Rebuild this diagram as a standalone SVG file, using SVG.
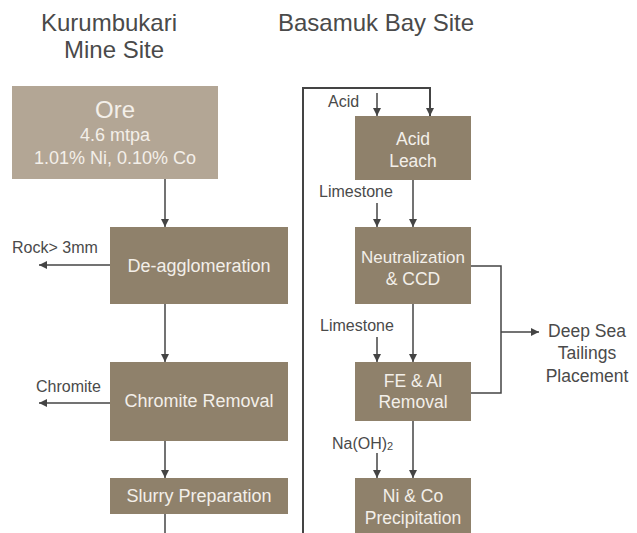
<svg xmlns="http://www.w3.org/2000/svg" width="637" height="533" viewBox="0 0 637 533">
<style>
text{font-family:"Liberation Sans",Arial,sans-serif}
.title{font-size:24px;fill:#4a4a4a;text-anchor:middle}
.box{fill:#8f816b}
.ore{fill:#b3a695}
.bt{font-size:17.5px;fill:#f3efe9;text-anchor:middle}
.lbl{font-size:16px;fill:#4a4a4a}
.ln{fill:none;stroke:#444;stroke-width:1.5}
.lnb{fill:none;stroke:#444;stroke-width:2}
</style>
<defs>
<marker id="ah" markerUnits="userSpaceOnUse" markerWidth="9" markerHeight="9" refX="8" refY="4" orient="auto">
<path d="M0,0 L8,4 L0,8 z" fill="#444"/>
</marker>
</defs>
<text class="title" x="109" y="31">Kurumbukari</text>
<text class="title" x="114" y="58">Mine Site</text>
<text class="title" x="376" y="31">Basamuk Bay Site</text>

<g id="connectors">
<path class="ln" d="M165,179 V227" marker-end="url(#ah)"/>
<path class="ln" d="M165,304 V362" marker-end="url(#ah)"/>
<path class="ln" d="M165,441 V478" marker-end="url(#ah)"/>
<path class="ln" d="M165,514 V533"/>
<path class="ln" d="M110,265 H39" marker-end="url(#ah)"/>
<path class="ln" d="M110,403 H39" marker-end="url(#ah)"/>
<path class="lnb" d="M303,533 V88 H430 V116" marker-end="url(#ah)"/>
<path class="ln" d="M377,93 V116" marker-end="url(#ah)"/>
<path class="ln" d="M377,203 V227" marker-end="url(#ah)"/>
<path class="ln" d="M413,180 V227" marker-end="url(#ah)"/>
<path class="ln" d="M377,337 V362" marker-end="url(#ah)"/>
<path class="ln" d="M413,304 V362" marker-end="url(#ah)"/>
<path class="ln" d="M377,453 V478" marker-end="url(#ah)"/>
<path class="ln" d="M413,421 V478" marker-end="url(#ah)"/>
<path class="ln" d="M471,266 H501 V393 H471"/>
<path class="ln" d="M501,332 H539" marker-end="url(#ah)"/>
</g>

<g id="labels">
<text class="lbl" x="12" y="253">Rock&gt; 3mm</text>
<text class="lbl" x="36" y="392">Chromite</text>
<text class="lbl" x="328" y="107">Acid</text>
<text class="lbl" x="319" y="197">Limestone</text>
<text class="lbl" x="320" y="331">Limestone</text>
<text class="lbl" x="332" y="449">Na(OH)<tspan style="font-size:11px" dy="1">2</tspan></text>
<text class="lbl" x="587" y="337" style="text-anchor:middle;font-size:17.5px">Deep Sea</text>
<text class="lbl" x="587" y="359" style="text-anchor:middle;font-size:17.5px">Tailings</text>
<text class="lbl" x="587" y="382" style="text-anchor:middle;font-size:17.5px">Placement</text>
</g>

<g id="ore">
<rect class="ore" x="12" y="86" width="206" height="93"/>
<text class="bt" x="115" y="118" style="font-size:24px">Ore</text>
<text class="bt" x="115" y="141" style="font-size:18px">4.6 mtpa</text>
<text class="bt" x="115" y="164" style="font-size:18px">1.01% Ni, 0.10% Co</text>
</g>
<g id="deagglomeration">
<rect class="box" x="110" y="227" width="178" height="77"/>
<text class="bt" x="199" y="272" style="font-size:18px">De-agglomeration</text>
</g>
<g id="chromite-removal">
<rect class="box" x="110" y="362" width="178" height="79"/>
<text class="bt" x="199" y="407" style="font-size:18px">Chromite Removal</text>
</g>
<g id="slurry-preparation">
<rect class="box" x="110" y="478" width="178" height="36"/>
<text class="bt" x="199" y="502" style="font-size:18px">Slurry Preparation</text>
</g>
<g id="acid-leach">
<rect class="box" x="355" y="116" width="116" height="64"/>
<text class="bt" x="413" y="145">Acid</text>
<text class="bt" x="413" y="167">Leach</text>
</g>
<g id="neutralization">
<rect class="box" x="355" y="227" width="116" height="77"/>
<text class="bt" x="413" y="263" style="font-size:17px">Neutralization</text>
<text class="bt" x="413" y="285">&amp; CCD</text>
</g>
<g id="fe-al-removal">
<rect class="box" x="355" y="362" width="116" height="59"/>
<text class="bt" x="413" y="387">FE &amp; Al</text>
<text class="bt" x="413" y="408">Removal</text>
</g>
<g id="ni-co-precipitation">
<rect class="box" x="355" y="478" width="116" height="60"/>
<text class="bt" x="413" y="502">Ni &amp; Co</text>
<text class="bt" x="413" y="524">Precipitation</text>
</g>
</svg>
